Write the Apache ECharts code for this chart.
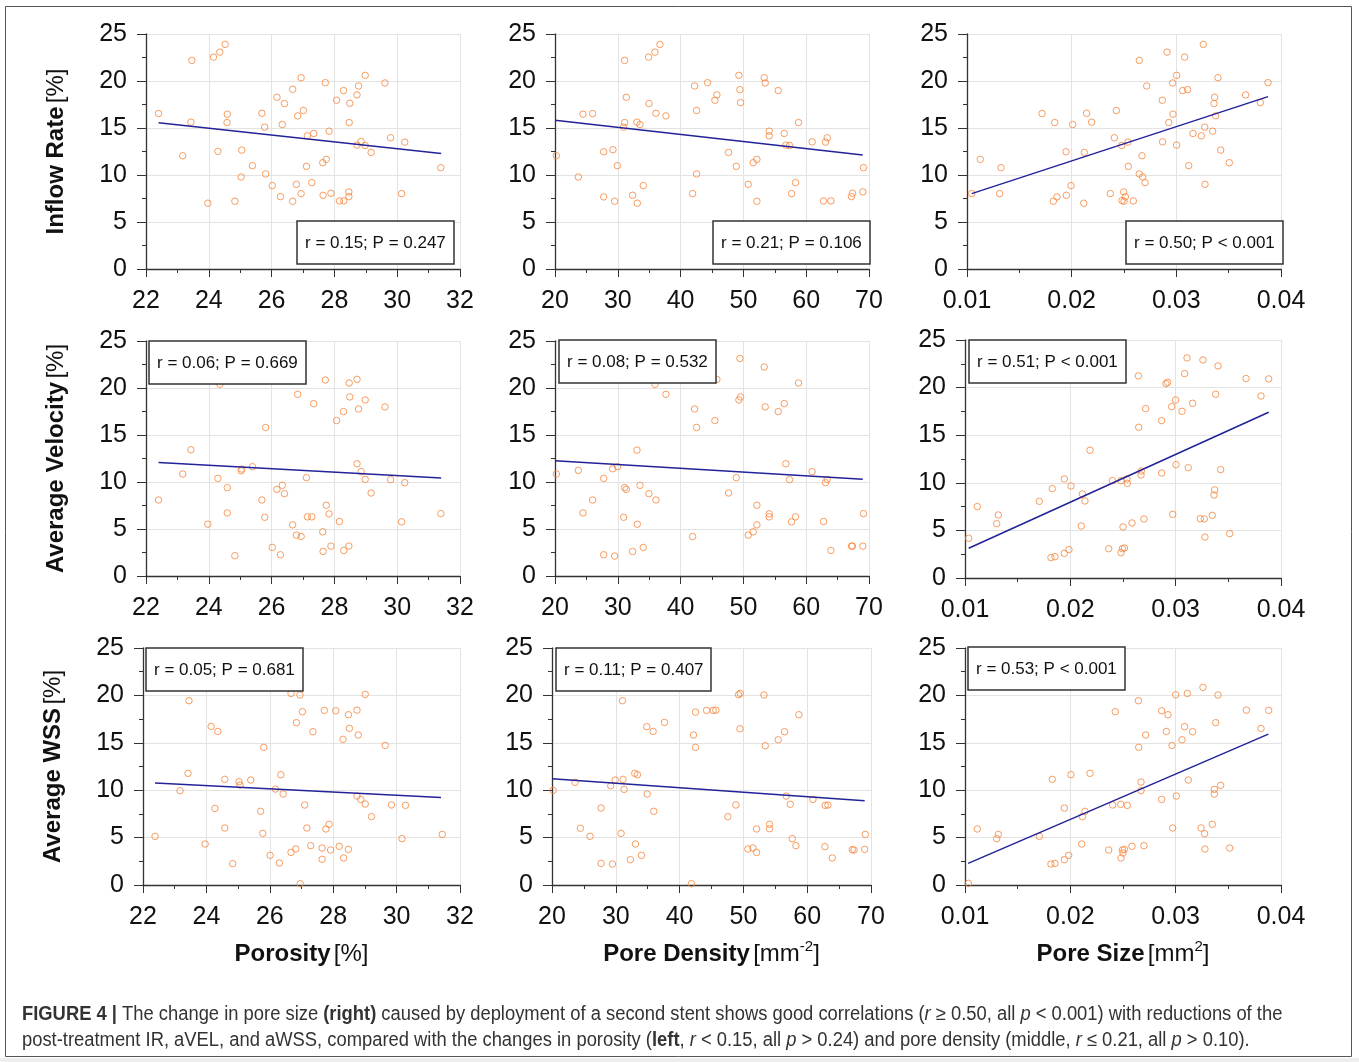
<!DOCTYPE html>
<html>
<head>
<meta charset="utf-8">
<title>Figure 4</title>
<script src="https://cdn.jsdelivr.net/npm/echarts@6/dist/echarts.min.js"></script>
<style>
  html, body { margin: 0; padding: 0; background: #fff; }
  #main { width: 1359px; height: 1062px; }
</style>
</head>
<body>
<div id="main"></div>
<script>
// ---- data: [x, y] per case ----
// row 1: inflow rate reduction
var irPorosity = [[22.40,16.54],[23.46,22.19],[24.15,22.54],[24.35,23.07],[24.52,23.89],[23.17,12.05],[23.43,15.62],[23.97,7.00],[24.29,12.51],[24.59,16.47],[24.58,15.58],[24.83,7.21],[25.05,12.65],[25.03,9.79],[25.39,10.99],[25.69,16.57],[25.78,15.09],[25.81,10.11],[26.02,8.87],[26.17,18.27],[26.41,17.60],[26.34,15.37],[26.28,7.70],[26.67,19.12],[26.67,7.21],[26.79,9.01],[26.83,16.29],[26.94,20.35],[27.01,16.86],[26.94,8.02],[27.11,10.92],[27.14,14.17],[27.34,14.42],[27.28,9.19],[27.71,19.82],[27.63,11.31],[27.74,11.66],[27.83,14.66],[27.64,7.84],[27.89,8.06],[28.07,17.95],[28.29,18.98],[28.49,17.63],[28.47,15.58],[28.16,7.24],[28.30,7.24],[28.46,7.70],[28.46,8.20],[28.72,18.52],[28.77,19.47],[28.98,20.60],[28.72,13.18],[28.85,13.57],[28.98,13.14],[29.17,12.40],[29.61,19.79],[29.79,13.96],[30.24,13.50],[30.14,8.02],[31.39,10.78]];
var irDensity = [[20.21,12.05],[23.71,9.79],[24.46,16.47],[25.99,16.54],[27.75,12.47],[29.23,12.69],[27.75,7.67],[29.50,7.21],[29.92,10.99],[31.09,22.19],[31.35,18.27],[31.09,15.58],[30.93,15.09],[32.36,7.84],[33.05,15.62],[33.53,15.37],[33.10,7.00],[34.06,8.87],[34.91,22.54],[35.92,23.07],[36.71,23.89],[34.96,17.60],[36.07,16.57],[37.67,16.29],[41.91,8.02],[42.23,19.47],[42.55,16.86],[42.55,10.11],[44.30,19.82],[45.46,17.95],[45.78,18.52],[47.64,12.40],[48.86,10.92],[49.28,20.60],[49.44,19.08],[49.55,17.70],[50.77,9.01],[51.56,11.31],[52.15,11.66],[52.15,7.21],[53.32,20.35],[53.47,19.79],[54.11,14.66],[54.11,14.17],[55.54,18.98],[56.50,14.42],[56.76,13.18],[57.35,13.14],[57.67,8.02],[58.30,9.19],[58.78,15.58],[60.95,13.53],[63.08,13.50],[63.34,13.96],[62.76,7.24],[63.93,7.24],[67.21,7.70],[67.37,8.06],[69.02,8.20],[69.12,10.78]];
var irSize = [[0.01045,8.02],[0.01127,11.66],[0.01325,10.78],[0.01312,8.02],[0.01717,16.54],[0.01838,15.58],[0.01825,7.21],[0.01860,7.67],[0.01946,12.47],[0.01949,7.84],[0.02010,15.37],[0.01994,8.87],[0.02115,7.00],[0.02121,12.40],[0.02143,16.57],[0.02191,15.62],[0.02369,8.02],[0.02408,13.96],[0.02427,16.86],[0.02478,13.14],[0.02497,8.20],[0.02513,7.67],[0.02481,7.28],[0.02500,7.21],[0.02538,13.50],[0.02541,10.92],[0.02589,7.24],[0.02646,22.19],[0.02646,10.11],[0.02672,12.05],[0.02678,9.79],[0.02701,9.19],[0.02717,19.47],[0.02866,17.95],[0.02869,13.53],[0.02911,23.07],[0.02927,15.58],[0.02965,19.79],[0.02968,16.47],[0.03003,20.60],[0.03003,13.18],[0.03061,18.98],[0.03080,22.54],[0.03108,19.08],[0.03118,10.99],[0.03159,14.42],[0.03239,14.17],[0.03258,23.89],[0.03271,15.09],[0.03274,9.01],[0.03347,14.66],[0.03360,17.60],[0.03366,18.27],[0.03376,16.29],[0.03398,20.35],[0.03424,12.65],[0.03506,11.31],[0.03662,18.52],[0.03803,17.70],[0.03876,19.82]];

// row 2: average velocity reduction
var velPorosity = [[22.40,8.09],[23.17,10.85],[23.43,13.43],[23.97,5.51],[24.29,10.39],[24.35,20.40],[24.59,9.40],[24.59,6.71],[24.83,2.16],[25.03,11.20],[25.05,11.38],[25.39,11.63],[25.69,8.09],[25.78,6.25],[25.81,15.80],[26.02,3.04],[26.17,9.22],[26.34,9.65],[26.41,8.76],[26.28,2.26],[26.67,5.44],[26.79,4.35],[26.94,4.20],[26.83,19.33],[27.11,10.46],[27.14,6.29],[27.28,6.29],[27.34,18.34],[27.63,4.70],[27.64,2.61],[27.74,7.53],[27.83,6.61],[27.71,20.85],[27.89,3.18],[28.07,16.54],[28.16,5.80],[28.29,17.49],[28.30,2.72],[28.46,3.18],[28.47,20.53],[28.49,19.05],[28.72,20.92],[28.72,11.94],[28.77,17.77],[28.85,11.10],[28.98,18.73],[28.98,10.28],[29.17,8.83],[29.61,17.99],[29.79,10.25],[30.24,9.93],[30.14,5.76],[31.39,6.64]];
var velDensity = [[20.21,10.85],[23.71,11.24],[24.46,6.71],[25.99,8.09],[27.75,10.39],[27.75,2.26],[29.18,11.41],[29.50,2.12],[29.97,11.63],[30.93,6.25],[31.09,9.40],[31.35,9.22],[32.36,2.61],[33.05,13.39],[33.10,5.51],[33.53,9.65],[34.06,3.04],[34.96,8.76],[35.92,20.39],[36.07,8.09],[37.67,19.33],[41.91,4.20],[42.23,17.77],[42.55,15.80],[45.46,16.54],[45.78,20.92],[47.64,8.83],[48.86,10.46],[49.28,18.73],[49.55,19.05],[49.44,23.14],[50.77,4.35],[51.56,4.70],[52.15,7.53],[52.15,5.44],[53.32,22.23],[53.47,17.99],[54.11,6.61],[54.11,6.29],[55.54,17.49],[56.50,18.34],[56.76,11.94],[57.35,10.25],[57.67,5.76],[58.30,6.29],[58.78,20.53],[60.95,11.10],[63.08,9.93],[63.34,10.28],[62.76,5.80],[63.93,2.72],[67.21,3.18],[67.37,3.18],[69.02,3.18],[69.12,6.64]];
var velSize = [[0.01035,4.17],[0.01117,7.50],[0.01301,5.71],[0.01316,6.62],[0.01706,8.06],[0.01816,2.14],[0.01829,9.39],[0.01854,2.24],[0.01943,10.40],[0.01943,2.59],[0.01987,2.98],[0.02006,9.67],[0.02104,5.46],[0.02114,8.83],[0.02139,8.09],[0.02187,13.42],[0.02364,3.08],[0.02399,10.23],[0.02481,10.23],[0.02481,2.66],[0.02494,3.08],[0.02513,3.15],[0.02500,5.36],[0.02538,10.40],[0.02541,9.95],[0.02585,5.78],[0.02646,21.23],[0.02649,15.83],[0.02671,10.82],[0.02674,11.24],[0.02699,6.20],[0.02715,17.79],[0.02867,16.53],[0.02867,11.03],[0.02908,20.42],[0.02924,20.56],[0.02962,18.00],[0.02972,6.69],[0.03000,18.70],[0.03003,11.91],[0.03060,17.51],[0.03085,21.47],[0.03120,11.59],[0.03108,23.12],[0.03161,18.35],[0.03234,6.23],[0.03259,22.91],[0.03272,6.20],[0.03278,4.31],[0.03348,6.58],[0.03364,8.72],[0.03370,9.25],[0.03380,19.30],[0.03402,22.28],[0.03427,11.38],[0.03513,4.66],[0.03668,20.95],[0.03810,19.12],[0.03883,20.91]];

// row 3: average WSS reduction
var wssPorosity = [[22.38,5.13],[23.17,9.95],[23.45,19.44],[23.42,11.78],[23.96,4.32],[24.15,16.73],[24.36,16.20],[24.27,8.08],[24.58,11.14],[24.58,6.01],[24.83,2.25],[25.03,10.90],[25.06,10.54],[25.40,11.07],[25.71,7.77],[25.78,5.45],[25.81,14.52],[26.01,3.13],[26.18,10.12],[26.30,2.32],[26.35,11.63],[26.42,9.60],[26.67,20.21],[26.67,3.44],[26.82,3.80],[26.84,17.12],[26.95,20.04],[26.96,0.14],[27.03,18.28],[27.10,8.44],[27.17,6.01],[27.29,4.15],[27.36,16.17],[27.65,2.71],[27.65,3.90],[27.72,18.42],[27.77,5.91],[27.87,6.40],[27.92,3.69],[28.08,18.38],[28.19,4.08],[28.31,15.36],[28.33,2.85],[28.48,17.96],[28.48,3.76],[28.51,16.52],[28.75,18.45],[28.79,15.82],[28.75,9.38],[28.87,9.03],[29.01,20.11],[29.01,8.54],[29.21,7.21],[29.64,14.73],[29.84,8.44],[30.28,8.40],[30.17,4.89],[31.44,5.34]];
var wssDensity = [[20.16,9.98],[23.61,10.83],[24.45,5.98],[25.96,5.13],[27.69,8.12],[27.69,2.28],[29.21,10.47],[29.47,2.21],[29.89,11.07],[30.83,5.45],[31.04,19.44],[31.14,11.14],[31.30,10.09],[32.29,2.67],[32.97,11.78],[33.08,4.32],[33.39,11.63],[34.02,3.13],[34.85,16.70],[34.91,9.60],[35.85,16.20],[35.95,7.77],[37.63,17.15],[41.86,0.14],[42.18,15.82],[42.49,18.24],[42.49,14.52],[44.22,18.42],[45.26,18.42],[45.68,18.45],[47.56,7.21],[48.82,8.44],[49.24,20.07],[49.50,20.21],[49.45,16.48],[50.70,3.80],[51.49,3.90],[52.06,5.91],[52.06,3.44],[53.21,20.04],[53.42,14.69],[54.10,6.40],[54.10,5.94],[55.46,15.32],[56.45,16.17],[56.72,9.38],[57.34,8.51],[57.66,4.89],[58.23,4.15],[58.70,17.96],[60.90,9.03],[62.83,8.40],[63.25,8.44],[62.78,4.04],[63.93,2.85],[67.07,3.73],[67.33,3.69],[69.01,3.76],[69.11,5.34]];
var wssSize = [[0.01032,0.18],[0.01117,5.91],[0.01301,4.89],[0.01316,5.34],[0.01706,5.13],[0.01816,2.21],[0.01829,11.14],[0.01854,2.28],[0.01943,8.12],[0.01943,2.67],[0.01984,3.13],[0.02006,11.63],[0.02108,4.32],[0.02114,7.21],[0.02139,7.77],[0.02187,11.78],[0.02364,3.69],[0.02402,8.44],[0.02427,18.28],[0.02478,8.51],[0.02481,2.85],[0.02494,3.69],[0.02513,3.76],[0.02500,3.37],[0.02541,8.40],[0.02585,4.08],[0.02646,19.44],[0.02649,14.52],[0.02671,10.86],[0.02671,9.95],[0.02699,4.15],[0.02715,15.82],[0.02867,18.38],[0.02867,9.03],[0.02911,16.20],[0.02927,17.96],[0.02965,14.73],[0.02972,6.01],[0.03000,20.07],[0.03006,9.38],[0.03060,15.32],[0.03085,16.70],[0.03111,20.21],[0.03120,11.07],[0.03161,16.17],[0.03241,6.01],[0.03259,20.84],[0.03275,5.41],[0.03278,3.80],[0.03348,6.40],[0.03367,10.09],[0.03367,9.60],[0.03380,17.12],[0.03402,20.04],[0.03427,10.51],[0.03513,3.90],[0.03671,18.45],[0.03810,16.52],[0.03883,18.42]];

// fitted lines (end points)
var irPorosityFit = [[22.4,15.55],[31.4,12.30]];
var irDensityFit = [[20,15.83],[69,12.12]];
var irSizeFit = [[0.01045,8.02],[0.03876,18.34]];
var velPorosityFit = [[22.4,12.08],[31.4,10.42]];
var velDensityFit = [[20,12.26],[69,10.28]];
var velSizeFit = [[0.01035,3.12],[0.03883,17.41]];
var wssPorosityFit = [[22.38,10.76],[31.4,9.24]];
var wssDensityFit = [[20,11.21],[69,8.89]];
var wssSizeFit = [[0.0103,2.28],[0.0388,15.92]];

var statLabels = ['r = 0.15; P = 0.247', 'r = 0.21; P = 0.106', 'r = 0.50; P < 0.001',
                  'r = 0.06; P = 0.669', 'r = 0.08; P = 0.532', 'r = 0.51; P < 0.001',
                  'r = 0.05; P = 0.681', 'r = 0.11; P = 0.407', 'r = 0.53; P < 0.001'];
var rowNames = ['Inflow Rate', 'Average Velocity', 'Average WSS'];
var yTicks = [0, 5, 10, 15, 20, 25];

var FONT = 'Liberation Sans, Arial, Helvetica, sans-serif';
var CAP_FONT = 'Liberation Sans Narrow, ' + FONT;
var AXIS_COLOR = '#333';

var chart = echarts.init(document.getElementById('main'));

var points = [irPorosity, irDensity, irSize, velPorosity, velDensity, velSize, wssPorosity, wssDensity, wssSize];
var fits = [irPorosityFit, irDensityFit, irSizeFit, velPorosityFit, velDensityFit, velSizeFit, wssPorosityFit, wssDensityFit, wssSizeFit];

// grid boxes, pixel layout
var grids = [
  {left: 146, top: 34, width: 314, height: 235},
  {left: 555, top: 34, width: 314, height: 235},
  {left: 967, top: 34, width: 314, height: 235},
  {left: 146, top: 341, width: 314, height: 235},
  {left: 555, top: 341, width: 314, height: 235},
  {left: 965, top: 340, width: 316, height: 238},
  {left: 143, top: 648, width: 317, height: 237},
  {left: 552, top: 648, width: 319, height: 237},
  {left: 965, top: 648, width: 316, height: 237}
];
var boxPos = [[297, 221], [713, 221], [1126, 221], [149, 341], [559, 340], [969, 340], [146, 648], [556, 648], [968, 647]];

var xScales = [
  {min: 22, max: 32, interval: 2, fmt: function (v) { return v; },
   name: '{b|Porosity} {n|[%]}'},
  {min: 20, max: 70, interval: 10, fmt: function (v) { return v; },
   name: '{b|Pore Density} {n|[mm}{s|-2}{n|]}'},
  {min: 0.01, max: 0.04, interval: 0.01, fmt: function (v) { return v.toFixed(2); },
   name: '{b|Pore Size} {n|[mm}{s|2}{n|]}'}
];

var nameRich = {
  b: {fontFamily: FONT, fontSize: 24, fontWeight: 'bold', color: '#111', lineHeight: 30},
  n: {fontFamily: FONT, fontSize: 24, color: '#111', lineHeight: 30},
  s: {fontFamily: FONT, fontSize: 15, color: '#111', lineHeight: 30, verticalAlign: 'top'}
};

var xAxes = [], yAxes = [], series = [], titles = [];
for (var i = 0; i < 9; i++) {
  var row = Math.floor(i / 3), col = i % 3;
  var sc = xScales[col];
  xAxes.push({
    type: 'value', gridIndex: i, min: sc.min, max: sc.max, interval: sc.interval,
    name: row === 2 ? sc.name : '',
    nameLocation: 'middle', nameGap: 54,
    nameTextStyle: {rich: nameRich},
    axisLine: {show: true, onZero: false, lineStyle: {color: AXIS_COLOR, width: 1.3}},
    axisTick: {show: true, length: 8, lineStyle: {color: AXIS_COLOR}},
    minorTick: {show: true, splitNumber: 2, length: 4, lineStyle: {color: AXIS_COLOR}},
    axisLabel: {fontFamily: FONT, fontSize: 25, color: '#111', margin: 20, formatter: sc.fmt},
    splitLine: {show: true, lineStyle: {color: '#e3e3e3', width: 1}}
  });
  yAxes.push({
    type: 'value', gridIndex: i, min: yTicks[0], max: yTicks[yTicks.length - 1], interval: 5,
    name: col === 0 ? '{b|' + rowNames[row] + '} {n|[%]}' : '',
    nameLocation: 'middle', nameGap: 75,
    nameTextStyle: {rich: nameRich},
    axisLine: {show: true, onZero: false, lineStyle: {color: AXIS_COLOR, width: 1.3}},
    axisTick: {show: true, length: 9, lineStyle: {color: AXIS_COLOR}},
    minorTick: {show: true, splitNumber: 2, length: 4, lineStyle: {color: AXIS_COLOR}},
    axisLabel: {fontFamily: FONT, fontSize: 25, color: '#111', margin: 19},
    splitLine: {show: true, lineStyle: {color: '#e3e3e3', width: 1}}
  });
  series.push({
    type: 'scatter', xAxisIndex: i, yAxisIndex: i, data: points[i],
    symbol: 'circle', symbolSize: 6.5,
    itemStyle: {color: 'rgba(0,0,0,0)', borderColor: '#f5843a', borderWidth: 1},
    silent: true, z: 3
  });
  series.push({
    type: 'line', xAxisIndex: i, yAxisIndex: i, data: fits[i],
    showSymbol: false, lineStyle: {color: '#222299', width: 1.5},
    silent: true, z: 4
  });
  titles.push({
    text: statLabels[i], left: boxPos[i][0], top: boxPos[i][1],
    padding: [12, 8, 11, 8],
    backgroundColor: '#fff', borderColor: '#333', borderWidth: 1.5,
    textStyle: {fontFamily: FONT, fontSize: 17, fontWeight: 'normal', color: '#111', lineHeight: 20}
  });
}

// caption: set in a condensed face, so the text is squeezed horizontally
var capRich = {
  b: {fontFamily: CAP_FONT, fontSize: 19.5, fontWeight: 'bold', fill: '#333'},
  i: {fontFamily: CAP_FONT, fontSize: 19.5, fontStyle: 'italic', fill: '#333'}
};
function capText(str, y) {
  return {
    type: 'text', x: 22, y: y, scaleX: 0.942, silent: true,
    style: {text: str, fontFamily: CAP_FONT, fontSize: 19.5, fill: '#333', rich: capRich, verticalAlign: 'middle'}
  };
}

var option = {
  animation: false,
  backgroundColor: '#fff',
  title: titles,
  grid: grids,
  xAxis: xAxes,
  yAxis: yAxes,
  series: series,
  graphic: [
    {type: 'rect', shape: {x: 0, y: 1058, width: 1359, height: 4}, style: {fill: '#eeeeee'}, silent: true},
    {type: 'rect', shape: {x: 5.5, y: 6.5, width: 1346, height: 1050}, style: {fill: 'none', stroke: '#555', lineWidth: 1}, silent: true},
    capText('{b|FIGURE 4 |} The change in pore size {b|(right)} caused by deployment of a second stent shows good correlations ({i|r} ≥ 0.50, all {i|p} < 0.001) with reductions of the', 1015),
    capText('post-treatment IR, aVEL, and aWSS, compared with the changes in porosity ({b|left}, {i|r} < 0.15, all {i|p} > 0.24) and pore density (middle, {i|r} ≤ 0.21, all {i|p} > 0.10).', 1041)
  ]
};
chart.setOption(option);
</script>
</body>
</html>
